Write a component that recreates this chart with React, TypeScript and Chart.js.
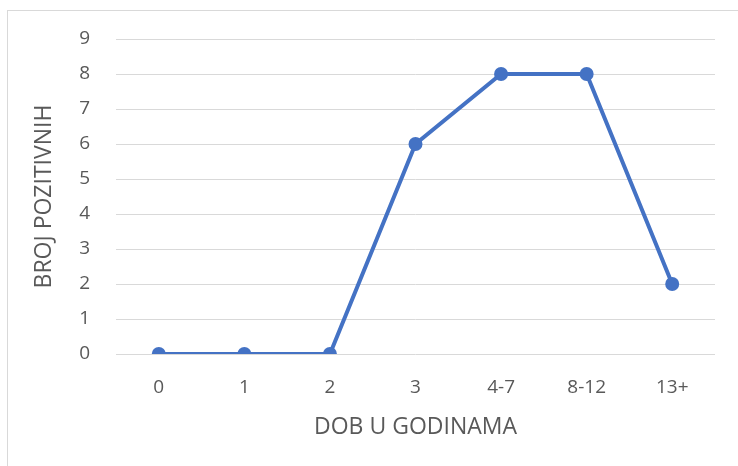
import React, { useEffect, useRef } from "react";
import { Chart, registerables } from "chart.js";

Chart.register(...registerables);

const categories = ["0", "1", "2", "3", "4-7", "8-12", "13+"];
const values = [0, 0, 0, 6, 8, 8, 2];
const yTicks = [0, 1, 2, 3, 4, 5, 6, 7, 8, 9];
const xTitle = "DOB U GODINAMA";
const yTitle = "BROJ POZITIVNIH";

const FONT = "'Open Sans', 'Liberation Sans', sans-serif";
const TEXT = "#595959";

export default function App() {
  const ref = useRef<HTMLCanvasElement>(null);
  useEffect(() => {
    if (!ref.current) return;
    const chart = new Chart(ref.current, {
      type: "line",
      data: {
        labels: categories,
        datasets: [
          {
            data: values,
            borderColor: "#4472C4",
            backgroundColor: "#4472C4",
            borderWidth: 4,
            pointRadius: 7,
            pointHoverRadius: 7,
            pointBorderWidth: 0,
            tension: 0,
          },
        ],
      },
      options: {
        animation: false,
        responsive: false,
        layout: { padding: { left: 31, right: 23, top: 39, bottom: 25 } },
        plugins: { legend: { display: false }, tooltip: { enabled: false } },
        scales: {
          x: {
            offset: true,
            grid: { display: false, drawTicks: false },
            border: { display: false },
            ticks: { color: TEXT, font: { family: FONT, size: 19 }, padding: 22 },
            title: {
              display: true,
              text: xTitle,
              color: TEXT,
              font: { family: FONT, size: 23 },
              padding: { top: 0, bottom: 0 },
            },
            afterFit: (s: any) => {
              s.height = 466 - 25 - 354;
            },
          },
          y: {
            min: 0,
            max: 9,
            afterBuildTicks: (s: any) => {
              s.ticks = yTicks.map((v) => ({ value: v }));
            },
            grid: { color: "#d9d9d9", lineWidth: 1, drawTicks: false },
            border: { display: false },
            ticks: { color: TEXT, font: { family: FONT, size: 19 }, padding: 26 },
            title: {
              display: true,
              text: yTitle,
              color: TEXT,
              font: { family: FONT, size: 23 },
              padding: { top: 0, bottom: 0 },
            },
            afterFit: (s: any) => {
              s.width = 116 - 31;
            },
          },
        },
      },
    });
    return () => chart.destroy();
  }, []);
  return (
    <div style={{ position: "fixed", left: 0, top: 0, width: 738, height: 466, background: "#fff", overflow: "hidden" }}>
      <div
        style={{
          position: "absolute",
          left: 7,
          top: 10,
          width: 800,
          height: 500,
          border: "1px solid #d9d9d9",
        }}
      />
      <canvas ref={ref} width={738} height={466} style={{ position: "absolute", left: 0, top: 0 }} />
    </div>
  );
}
